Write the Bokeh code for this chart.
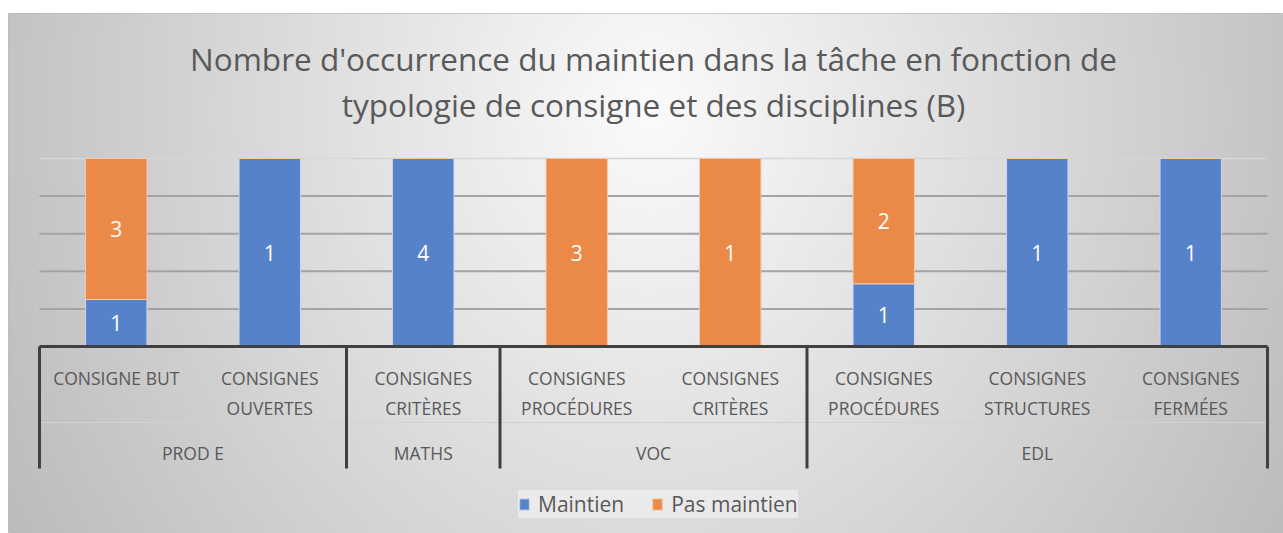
import numpy as np
from bokeh.plotting import figure
from bokeh.models import Range1d, ColumnDataSource, Legend, LegendItem, Spacer
from bokeh.layouts import column, row
from bokeh.core.properties import value
from bokeh.embed import file_html
from bokeh.resources import INLINE

# ---------------- data ----------------
title_lines = ["Nombre d'occurrence du maintien dans la tâche en fonction de",
               "typologie de consigne et des disciplines (B)"]
disciplines = ["PROD E", "PROD E", "MATHS", "VOC", "VOC", "EDL", "EDL", "EDL"]
consignes = ["CONSIGNE BUT", "CONSIGNES\nOUVERTES", "CONSIGNES\nCRITÈRES",
             "CONSIGNES\nPROCÉDURES", "CONSIGNES\nCRITÈRES", "CONSIGNES\nPROCÉDURES",
             "CONSIGNES\nSTRUCTURES", "CONSIGNES\nFERMÉES"]
maintien = [1, 1, 4, 0, 0, 1, 1, 1]
pas_maintien = [3, 0, 0, 3, 1, 2, 0, 0]
series_names = ["Maintien", "Pas maintien"]
series_colors = ["#5682CA", "#EB8A48"]

# ---------------- layout constants ----------------
W, H = 1275, 520
PX = 153.5      # pixels per category
PY = 188.0      # pixels per 100 %
LEFT, RIGHT = 31, 16
BASE = 333      # baseline distance from top (px)
FONT = value("Open Sans")
TXT = "#595959"

n = len(consignes)
p = figure(width=W, height=H,
           x_range=Range1d(-LEFT / PX, n + RIGHT / PX),
           y_range=Range1d(-(H - BASE) / PY, BASE / PY),
           output_backend="svg", toolbar_location=None,
           x_axis_location=None, y_axis_location=None,
           min_border=0, outline_line_color="#bdbdbd")
p.xgrid.visible = False
p.ygrid.visible = False
p.background_fill_color = "#e6e6e6"
p.border_fill_color = "#e6e6e6"

# ---------------- gradient background ----------------
p.extra_x_ranges = {"px": Range1d(0, W)}
p.extra_y_ranges = {"py": Range1d(0, H)}
hs, ws = H // 2, (W + 1) // 2
yy, xx = np.mgrid[0:hs, 0:ws]
gx = (xx + 0.5) * 2
gy_top = H - (yy + 0.5) * 2
cx, cy = 642, 97
d = np.sqrt(((gx - cx) / 700.0) ** 2 + ((gy_top - cy) / 800.0) ** 2)
g = np.clip(251 - 60 * d, 0, 255).astype(np.uint8)
img = np.empty((hs, ws), dtype=np.uint32)
view = img.view(dtype=np.uint8).reshape((hs, ws, 4))
view[..., 0] = g
view[..., 1] = g
view[..., 2] = g
view[..., 3] = 255
p.image_rgba(image=[img], x=0, y=0, dw=W, dh=H, x_range_name="px", y_range_name="py")

# ---------------- gridlines ----------------
grid_levels = [0.2, 0.4, 0.6, 0.8]
p.segment(x0=[0] * len(grid_levels), x1=[n] * len(grid_levels), y0=grid_levels, y1=grid_levels,
          line_color="#a3a3a3", line_width=2)
p.segment(x0=[0], x1=[n], y0=[1.0], y1=[1.0], line_color="#d6d6d6", line_width=1.5)

# ---------------- bars (100 % stacked) ----------------
tot = np.array(maintien, float) + np.array(pas_maintien, float)
m_frac = np.array(maintien) / tot
xs = np.arange(n) + 0.5
src = ColumnDataSource(dict(x=xs, m0=np.zeros(n), m1=m_frac, p0=m_frac, p1=np.ones(n)))
r1 = p.vbar(x="x", bottom="m0", top="m1", width=0.4, source=src,
            fill_color=series_colors[0], line_color="#c9d6ee", line_width=1)
r2 = p.vbar(x="x", bottom="p0", top="p1", width=0.4, source=src,
            fill_color=series_colors[1], line_color="#f4c7a6", line_width=1)

# value labels
lx, ly, lt = [], [], []
for i in range(n):
    if maintien[i]:
        lx.append(xs[i]); ly.append(m_frac[i] / 2); lt.append(str(maintien[i]))
    if pas_maintien[i]:
        lx.append(xs[i]); ly.append(m_frac[i] + (1 - m_frac[i]) / 2); lt.append(str(pas_maintien[i]))
p.text(x=lx, y=ly, text=lt, text_font=FONT, text_font_size="21px", text_color="white",
       text_align="center", text_baseline="middle")

# ---------------- category table ----------------
bounds = [0]
for i in range(1, n):
    if disciplines[i] != disciplines[i - 1]:
        bounds.append(i)
bounds.append(n)
groups = [(disciplines[bounds[k]], bounds[k], bounds[k + 1]) for k in range(len(bounds) - 1)]

y_line1 = -31 / PY
y_line2 = -61 / PY
y_group = -106 / PY
y_sep = -76 / PY
y_bottom = -122 / PY

p.segment(x0=[0], x1=[n], y0=[y_sep], y1=[y_sep], line_color="#d2d2d2", line_width=1)
p.segment(x0=bounds, x1=bounds, y0=[0] * len(bounds), y1=[y_bottom] * len(bounds),
          line_color="#404040", line_width=3)
p.segment(x0=[0], x1=[n], y0=[0], y1=[0], line_color="#404040", line_width=3)

t1x, t1y, t1t = [], [], []
for i, lab in enumerate(consignes):
    parts = lab.split("\n")
    for k, part in enumerate(parts):
        t1x.append(xs[i]); t1y.append(y_line1 if k == 0 else y_line2); t1t.append(part)
p.text(x=t1x, y=t1y, text=t1t, text_font=FONT, text_font_size="17.5px", text_color=TXT,
       text_align="center", text_baseline="middle")
p.text(x=[(a + b) / 2 for _, a, b in groups], y=[y_group] * len(groups),
       text=[gname for gname, _, _ in groups], text_font=FONT, text_font_size="17.5px",
       text_color=TXT, text_align="center", text_baseline="middle")

# ---------------- title ----------------
p.text(x=[n / 2] * 2, y=[(BASE - 45) / PY, (BASE - 91) / PY], text=title_lines,
       text_font=FONT, text_font_size="31.5px", text_color=TXT,
       text_align="center", text_baseline="middle")

# ---------------- legend ----------------
legend = Legend(items=[LegendItem(label=series_names[0], renderers=[r1]),
                       LegendItem(label=series_names[1], renderers=[r2])],
                orientation="horizontal", location=(510, 15),
                background_fill_color="#f4f4f4", background_fill_alpha=0.6,
                border_line_color=None, padding=10, spacing=27, margin=0,
                glyph_width=12, glyph_height=14, label_standoff=8,
                label_text_font="Open Sans", label_text_font_size="21px",
                label_text_color=TXT)
p.add_layout(legend)

layout = column(Spacer(height=13, width=W + 8),
                row(Spacer(width=8, height=H), p, spacing=0), spacing=0)
open("out.html", "w").write(file_html(layout, INLINE))
